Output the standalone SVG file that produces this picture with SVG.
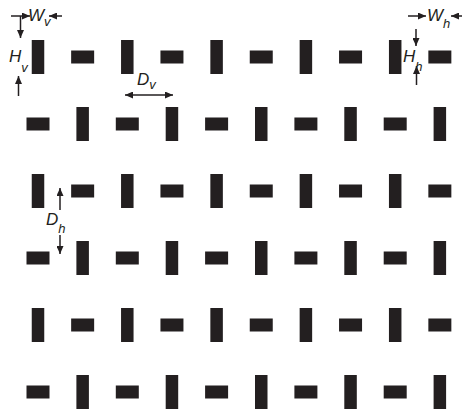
<svg xmlns="http://www.w3.org/2000/svg" width="466" height="409" viewBox="0 0 466 409">
<style>
.v{fill:#231f20}
.h{fill:#231f20}
.ar{stroke:#231f20;stroke-width:1.5;fill:none}
.lbl{font-family:"Liberation Sans",Arial,sans-serif;font-style:italic;fill:#231f20;font-size:17px}
.sub{font-size:13px}
</style>
<defs>
<marker id="ah" markerWidth="8" markerHeight="7" refX="8" refY="3.5" orient="auto-start-reverse" markerUnits="userSpaceOnUse">
<path d="M0,0 L8,3.5 L0,7 z" fill="#231f20"/>
</marker>
<rect id="vb" width="12.5" height="34" x="-6.25" y="-17"/>
<rect id="hb" width="23" height="13" x="-11.5" y="-6.5"/>
</defs>
<rect width="466" height="409" fill="#fff"/>
<g id="bars">
<g id="row1">
<use href="#vb" class="v" x="38" y="57"/><use href="#hb" class="h" x="82.65" y="57"/><use href="#vb" class="v" x="127.3" y="57"/><use href="#hb" class="h" x="171.95" y="57"/><use href="#vb" class="v" x="216.6" y="57"/><use href="#hb" class="h" x="261.25" y="57"/><use href="#vb" class="v" x="305.9" y="57"/><use href="#hb" class="h" x="350.55" y="57"/><use href="#vb" class="v" x="395.2" y="57"/><use href="#hb" class="h" x="439.85" y="57"/>
</g>
<g id="row2">
<use href="#hb" class="h" x="38" y="124"/><use href="#vb" class="v" x="82.65" y="124"/><use href="#hb" class="h" x="127.3" y="124"/><use href="#vb" class="v" x="171.95" y="124"/><use href="#hb" class="h" x="216.6" y="124"/><use href="#vb" class="v" x="261.25" y="124"/><use href="#hb" class="h" x="305.9" y="124"/><use href="#vb" class="v" x="350.55" y="124"/><use href="#hb" class="h" x="395.2" y="124"/><use href="#vb" class="v" x="439.85" y="124"/>
</g>
<g id="row3">
<use href="#vb" class="v" x="38" y="191"/><use href="#hb" class="h" x="82.65" y="191"/><use href="#vb" class="v" x="127.3" y="191"/><use href="#hb" class="h" x="171.95" y="191"/><use href="#vb" class="v" x="216.6" y="191"/><use href="#hb" class="h" x="261.25" y="191"/><use href="#vb" class="v" x="305.9" y="191"/><use href="#hb" class="h" x="350.55" y="191"/><use href="#vb" class="v" x="395.2" y="191"/><use href="#hb" class="h" x="439.85" y="191"/>
</g>
<g id="row4">
<use href="#hb" class="h" x="38" y="258"/><use href="#vb" class="v" x="82.65" y="258"/><use href="#hb" class="h" x="127.3" y="258"/><use href="#vb" class="v" x="171.95" y="258"/><use href="#hb" class="h" x="216.6" y="258"/><use href="#vb" class="v" x="261.25" y="258"/><use href="#hb" class="h" x="305.9" y="258"/><use href="#vb" class="v" x="350.55" y="258"/><use href="#hb" class="h" x="395.2" y="258"/><use href="#vb" class="v" x="439.85" y="258"/>
</g>
<g id="row5">
<use href="#vb" class="v" x="38" y="325"/><use href="#hb" class="h" x="82.65" y="325"/><use href="#vb" class="v" x="127.3" y="325"/><use href="#hb" class="h" x="171.95" y="325"/><use href="#vb" class="v" x="216.6" y="325"/><use href="#hb" class="h" x="261.25" y="325"/><use href="#vb" class="v" x="305.9" y="325"/><use href="#hb" class="h" x="350.55" y="325"/><use href="#vb" class="v" x="395.2" y="325"/><use href="#hb" class="h" x="439.85" y="325"/>
</g>
<g id="row6">
<use href="#hb" class="h" x="38" y="392"/><use href="#vb" class="v" x="82.65" y="392"/><use href="#hb" class="h" x="127.3" y="392"/><use href="#vb" class="v" x="171.95" y="392"/><use href="#hb" class="h" x="216.6" y="392"/><use href="#vb" class="v" x="261.25" y="392"/><use href="#hb" class="h" x="305.9" y="392"/><use href="#vb" class="v" x="350.55" y="392"/><use href="#hb" class="h" x="395.2" y="392"/><use href="#vb" class="v" x="439.85" y="392"/>
</g>
</g>
<g id="connectors">
<line class="ar" x1="11" y1="16" x2="30" y2="16" marker-end="url(#ah)"/>
<line class="ar" x1="62" y1="16" x2="49" y2="16" marker-end="url(#ah)"/>
<line class="ar" x1="20.5" y1="16" x2="20.5" y2="38" marker-end="url(#ah)"/>
<line class="ar" x1="18.5" y1="96" x2="18.5" y2="76" marker-end="url(#ah)"/>
<line class="ar" x1="408" y1="16" x2="426" y2="16" marker-end="url(#ah)"/>
<line class="ar" x1="462" y1="16" x2="451" y2="16" marker-end="url(#ah)"/>
<line class="ar" x1="416" y1="29" x2="416" y2="46" marker-end="url(#ah)"/>
<line class="ar" x1="416.5" y1="85" x2="416.5" y2="66" marker-end="url(#ah)"/>
<line class="ar" x1="125" y1="95" x2="173" y2="95" marker-start="url(#ah)" marker-end="url(#ah)"/>
<line class="ar" x1="60" y1="210" x2="60" y2="188" marker-end="url(#ah)"/>
<line class="ar" x1="60" y1="235" x2="60" y2="254" marker-end="url(#ah)"/>
</g>
<g id="labels">
<text id="Wv" class="lbl" x="28" y="21" font-size="16">W<tspan class="sub" dy="5">v</tspan></text>
<text id="Hv" class="lbl" x="9" y="62">H<tspan class="sub" dy="10">v</tspan></text>
<text id="Wh" class="lbl" x="427" y="21" font-size="16">W<tspan class="sub" dy="7">h</tspan></text>
<text id="Hh" class="lbl" x="403" y="62">H<tspan class="sub" dy="9">h</tspan></text>
<text id="Dv" class="lbl" x="137" y="85">D<tspan class="sub" dy="4">v</tspan></text>
<text id="Dh" class="lbl" x="46" y="225">D<tspan class="sub" dy="8">h</tspan></text>
</g>
</svg>
